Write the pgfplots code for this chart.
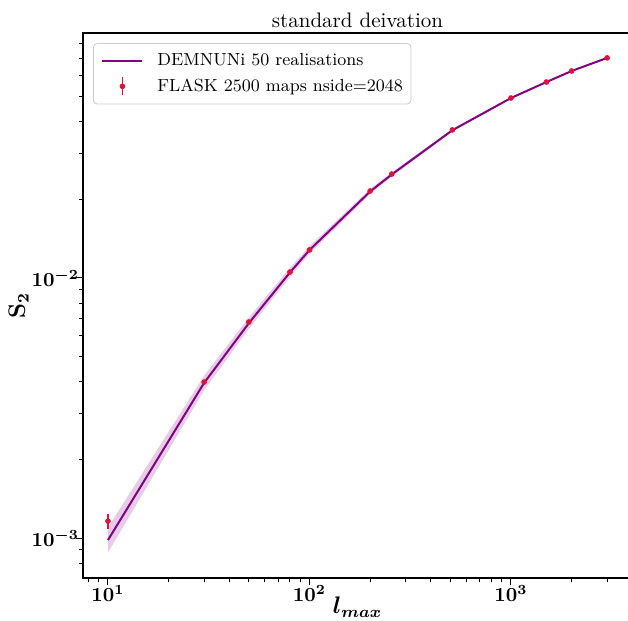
\documentclass[border=0pt]{standalone}
\usepackage{pgfplots}
\pgfplotsset{compat=1.18}
\usepackage{bm}
\definecolor{mpurple}{HTML}{800080}
\definecolor{crimson}{HTML}{DC143C}
\pgfplotstableread{
x y
10 9.82e-4
30 3.95e-3
50 6.70e-3
80 1.05e-2
100 1.28e-2
200 2.15e-2
256 2.50e-2
512 3.70e-2
1000 4.92e-2
1500 5.67e-2
2000 6.25e-2
3000 7.02e-2
}\demnuni
\pgfplotstableread{
x y e
10 1.162e-3 0.077e-3
30 3.98e-3 0.02e-3
50 6.77e-3 0.03e-3
80 1.054e-2 0.04e-3
100 1.282e-2 0.05e-3
200 2.16e-2 0.08e-3
256 2.51e-2 0.09e-3
512 3.71e-2 0.1e-3
1000 4.92e-2 0.1e-3
1500 5.67e-2 0.1e-3
2000 6.25e-2 0.1e-3
3000 7.02e-2 0.1e-3
}\flask
\begin{document}
\begin{tikzpicture}
\begin{axis}[name=ax, scale only axis, width=274.5pt, height=272.5pt,
  xmode=log, ymode=log,
  xmin=7.52, xmax=3987, ymin=7.02e-4, ymax=0.0875,
  axis line style={line width=0.6pt},
  tick align=outside, xtick pos=bottom, ytick pos=left,
  xtick={10,100,1000},
  xticklabels={$\bm{10^{1}}$,$\bm{10^{2}}$,$\bm{10^{3}}$},
  minor xtick={8,9,20,30,40,50,60,70,80,90,200,300,400,500,600,700,800,900,2000,3000},
  ytick={1e-3,1e-2},
  yticklabels={$\bm{10^{-3}}$,$\bm{10^{-2}}$},
  minor ytick={8e-4,9e-4,2e-3,3e-3,4e-3,5e-3,6e-3,7e-3,8e-3,9e-3,2e-2,3e-2,4e-2,5e-2,6e-2,7e-2,8e-2},
  major tick length=3.5pt, minor tick length=2pt,
  every tick/.style={black, line width=0.5pt},
  tick label style={font=\fontsize{10}{12}\selectfont},
  xticklabel style={yshift=3.5pt},
  yticklabel style={xshift=5pt},
  title={standard deivation},
  title style={font=\fontsize{10.5}{12}\selectfont, at={(axis description cs:0.5,1)}, anchor=base, yshift=-3pt},
  xlabel={$\bm{l_{max}}$}, ylabel={$\mathbf{S_2}$},
  label style={font=\fontsize{12}{14}\selectfont},
  xlabel style={at={(axis description cs:0.5,-0.066)}, anchor=base},
  ylabel style={at={(axis description cs:-0.1056,0.5)}, anchor=base},
  legend cell align=left,
  legend style={at={(axis description cs:0,1)}, anchor=north west, xshift=5pt, yshift=-5pt,
    draw=black!20, rounded corners=2pt, font=\fontsize{8.75}{10}\selectfont,
    inner xsep=2pt, inner ysep=3pt, row sep=1pt},
]
\addplot[draw=none, fill=mpurple, fill opacity=0.2, forget plot] coordinates {
(10,1.097e-3) (30,4.21e-3) (50,7.05e-3) (80,1.094e-2) (100,1.325e-2) (200,2.20e-2) (256,2.547e-2) (512,3.743e-2) (1000,4.954e-2) (1500,5.696e-2) (2000,6.279e-2) (3000,7.052e-2)
(3000,6.988e-2) (2000,6.221e-2) (1500,5.644e-2) (1000,4.886e-2) (512,3.658e-2) (256,2.454e-2) (200,2.10e-2) (100,1.237e-2) (80,1.008e-2) (50,6.37e-3) (30,3.70e-3) (10,8.79e-4)
} -- cycle;
\addplot[mpurple, line width=1pt, no marks,
  legend image code/.code={\path (-2pt,0pt); \draw[mpurple, line width=1pt] (0pt,0pt) -- (20pt,0pt);}]
  table[x=x,y=y]{\demnuni};
\addlegendentry{\hspace{5pt}DEMNUNi 50 realisations}
\addplot[crimson, only marks, mark=*, mark size=1.2pt,
  legend image code/.code={\path (-2pt,0pt); \path (20pt,0pt);
    \draw[crimson, line width=0.8pt] (10pt,-4.5pt) -- (10pt,4.5pt);
    \fill[crimson] (10pt,0pt) circle (1.2pt);},
  error bars/.cd, y dir=both, y explicit, error mark=none,
  error bar style={line width=0.8pt, crimson}]
  table[x=x,y=y,y error=e]{\flask};
\addlegendentry{\hspace{5pt}FLASK 2500 maps nside=2048}
\end{axis}
\pgfresetboundingbox
\useasboundingbox ([xshift=-41.5pt,yshift=-21.5pt]ax.south west) rectangle ([xshift=-2pt,yshift=16.5pt]ax.north east);
\end{tikzpicture}
\end{document}
